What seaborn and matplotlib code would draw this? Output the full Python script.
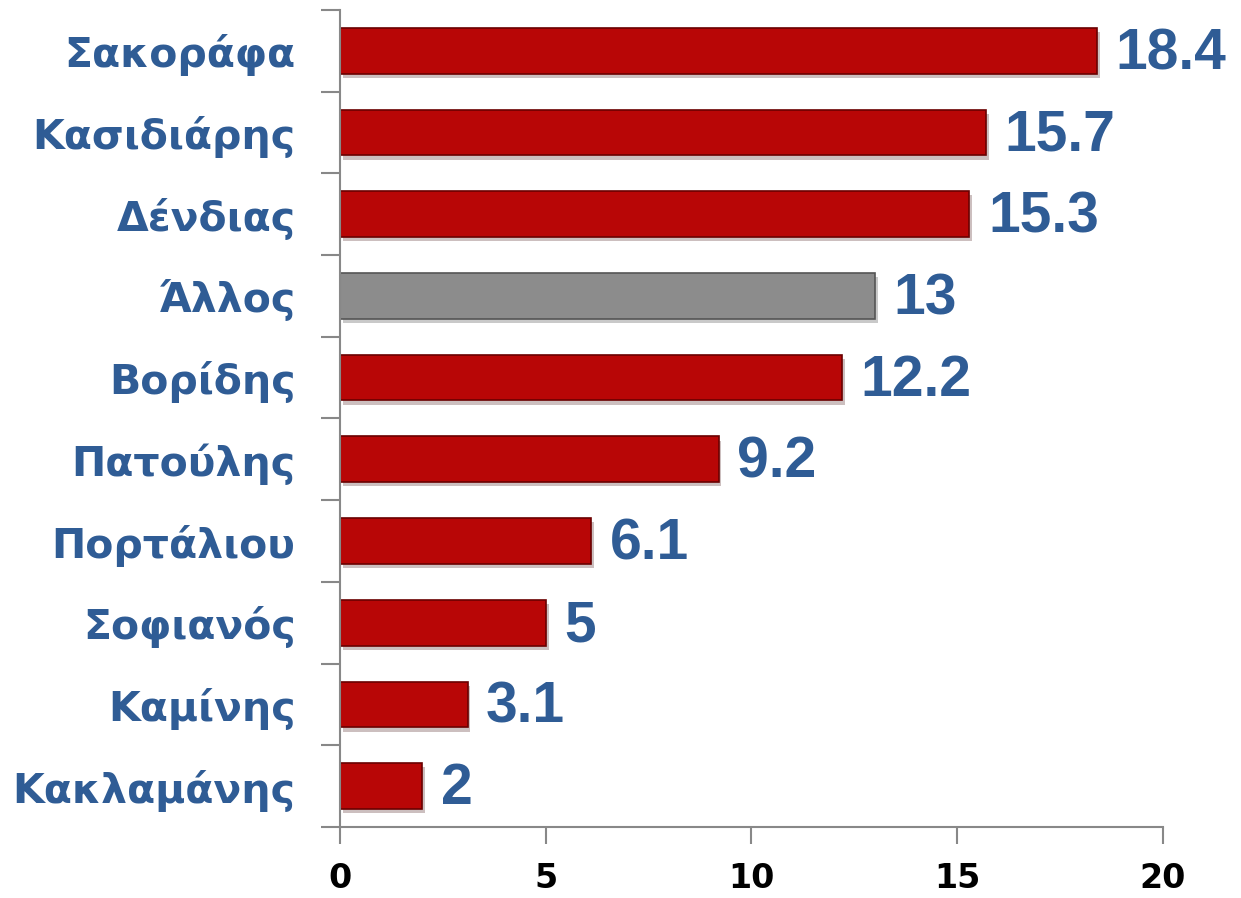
import numpy as np
import pandas as pd
import seaborn as sns
import matplotlib.pyplot as plt
import matplotlib.patheffects as pe
from matplotlib.ticker import FixedLocator

names = ['Σακοράφα', 'Κασιδιάρης', 'Δένδιας', 'Άλλος', 'Βορίδης',
         'Πατούλης', 'Πορτάλιου', 'Σοφιανός', 'Καμίνης', 'Κακλαμάνης']
values = [18.4, 15.7, 15.3, 13, 12.2, 9.2, 6.1, 5, 3.1, 2]
labels = ['18.4', '15.7', '15.3', '13', '12.2', '9.2', '6.1', '5', '3.1', '2']
colors = ['#B80606' if n != 'Άλλος' else '#8C8C8C' for n in names]

df = pd.DataFrame({'name': names, 'value': values})

sns.set_style('white')
plt.rcParams['font.family'] = ['DejaVu Sans']

fig = plt.figure(figsize=(12.41, 8.98), dpi=100)
ax = fig.add_axes([0.274, 0.079, 0.663, 0.910])

sns.barplot(data=df, x='value', y='name', hue='name', palette=colors,
            legend=False, width=0.56, ax=ax, saturation=1)
for p, c in zip(ax.patches, colors):
    p.set_edgecolor('#6A0000' if c != '#8C8C8C' else '#555555')
    p.set_linewidth(1.2)
    p.set_path_effects([pe.SimplePatchShadow(offset=(2, -3), alpha=0.25),
                        pe.Normal()])

blue = '#2F5C95'
for i, (v, t) in enumerate(zip(values, labels)):
    ax.text(v + 0.45, i + 0.04, t, va='center', ha='left', fontsize=41,
            fontweight='bold', color=blue, family='Liberation Sans')

ax.set_xlim(0, 20)
ax.set_ylim(len(names) - 0.5, -0.5)
ax.set_xticks([0, 5, 10, 15, 20])
ax.set_xlabel('')
ax.set_ylabel('')
ax.tick_params(axis='x', bottom=True, labelsize=24, length=12, width=1.5,
               color='#888888', labelcolor='black', direction='out', pad=13)
for lab in ax.get_xticklabels():
    lab.set_fontweight('bold')
ax.tick_params(axis='y', which='major', left=True, length=0, labelsize=29.5,
               pad=32, labelcolor=blue)
for lab in ax.get_yticklabels():
    lab.set_fontweight('bold')
ax.yaxis.set_minor_locator(FixedLocator(np.arange(-0.5, len(names), 1)))
ax.tick_params(axis='y', which='minor', left=True, length=14, width=1.5,
               color='#888888', direction='out')

for s in ['top', 'right']:
    ax.spines[s].set_visible(False)
for s in ['left', 'bottom']:
    ax.spines[s].set_color('#888888')
    ax.spines[s].set_linewidth(1.5)

fig.savefig('out.png', dpi=100, facecolor='white')
